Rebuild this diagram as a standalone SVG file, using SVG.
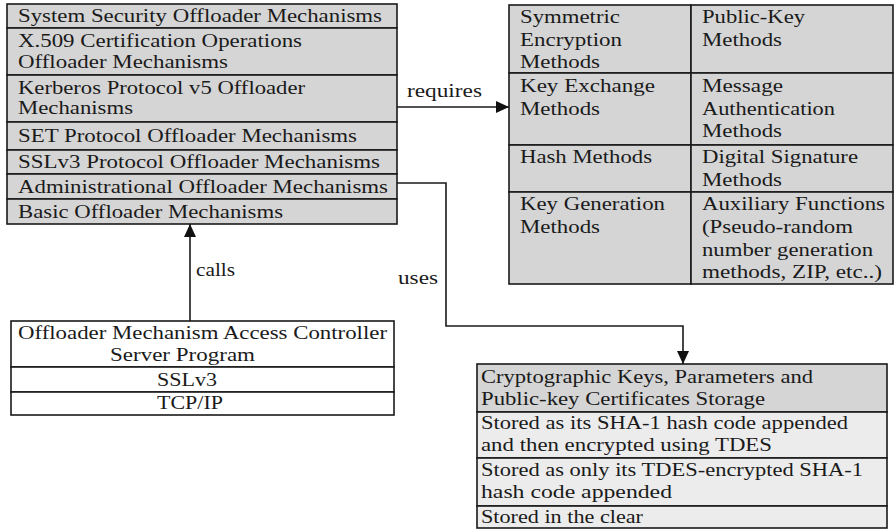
<svg xmlns="http://www.w3.org/2000/svg" width="895" height="529" viewBox="0 0 895 529">
<style>
text{font-family:'Liberation Serif','Times New Roman',Times,serif;font-size:19px;fill:#1a1a1a}
.g{fill:#d5d5d5;stroke:#1a1a1a;stroke-width:1.6}
.l{fill:#ececec;stroke:#1a1a1a;stroke-width:1.6}
.w{fill:#ffffff;stroke:#1a1a1a;stroke-width:1.6}
.c{fill:none;stroke:#1a1a1a;stroke-width:1.6}
</style>
<defs>
<marker id="ah" markerUnits="userSpaceOnUse" markerWidth="13" markerHeight="12" refX="13" refY="6" orient="auto">
<path d="M0,0 L13,6 L0,12 z" fill="#111"/>
</marker>
</defs>
<rect width="895" height="529" fill="#fff"/>

<g id="offloader-mechanisms">
<rect class="g" x="7" y="4" width="390" height="24"/>
<rect class="g" x="7" y="28" width="390" height="47"/>
<rect class="g" x="7" y="75" width="390" height="47"/>
<rect class="g" x="7" y="122" width="390" height="28"/>
<rect class="g" x="7" y="150" width="390" height="24"/>
<rect class="g" x="7" y="174" width="390" height="25"/>
<rect class="g" x="7" y="199" width="390" height="25"/>
<text x="18" y="22" textLength="364" lengthAdjust="spacingAndGlyphs">System Security Offloader Mechanisms</text>
<text x="18" y="47" textLength="284" lengthAdjust="spacingAndGlyphs">X.509 Certification Operations</text>
<text x="18" y="68" textLength="210" lengthAdjust="spacingAndGlyphs">Offloader Mechanisms</text>
<text x="18" y="94" textLength="287" lengthAdjust="spacingAndGlyphs">Kerberos Protocol v5 Offloader</text>
<text x="18" y="114" textLength="115" lengthAdjust="spacingAndGlyphs">Mechanisms</text>
<text x="18" y="142" textLength="339" lengthAdjust="spacingAndGlyphs">SET Protocol Offloader Mechanisms</text>
<text x="18" y="168" textLength="362" lengthAdjust="spacingAndGlyphs">SSLv3 Protocol Offloader Mechanisms</text>
<text x="18" y="193" textLength="370" lengthAdjust="spacingAndGlyphs">Administrational Offloader Mechanisms</text>
<text x="18" y="218" textLength="265" lengthAdjust="spacingAndGlyphs">Basic Offloader Mechanisms</text>
</g>

<g id="crypto-methods">
<rect class="g" x="509" y="5" width="182" height="68"/>
<rect class="g" x="691" y="5" width="202" height="68"/>
<rect class="g" x="509" y="73" width="182" height="72"/>
<rect class="g" x="691" y="73" width="202" height="72"/>
<rect class="g" x="509" y="145" width="182" height="47"/>
<rect class="g" x="691" y="145" width="202" height="47"/>
<rect class="g" x="509" y="192" width="182" height="92"/>
<rect class="g" x="691" y="192" width="202" height="92"/>
<text x="520" y="23" textLength="100" lengthAdjust="spacingAndGlyphs">Symmetric</text>
<text x="520" y="46" textLength="102" lengthAdjust="spacingAndGlyphs">Encryption</text>
<text x="520" y="68" textLength="80" lengthAdjust="spacingAndGlyphs">Methods</text>
<text x="702" y="23" textLength="103" lengthAdjust="spacingAndGlyphs">Public-Key</text>
<text x="702" y="46" textLength="80" lengthAdjust="spacingAndGlyphs">Methods</text>
<text x="520" y="92" textLength="135" lengthAdjust="spacingAndGlyphs">Key Exchange</text>
<text x="520" y="115" textLength="80" lengthAdjust="spacingAndGlyphs">Methods</text>
<text x="702" y="92" textLength="81" lengthAdjust="spacingAndGlyphs">Message</text>
<text x="702" y="115" textLength="133" lengthAdjust="spacingAndGlyphs">Authentication</text>
<text x="702" y="137" textLength="80" lengthAdjust="spacingAndGlyphs">Methods</text>
<text x="520" y="163" textLength="132" lengthAdjust="spacingAndGlyphs">Hash Methods</text>
<text x="702" y="163" textLength="156" lengthAdjust="spacingAndGlyphs">Digital Signature</text>
<text x="702" y="186" textLength="80" lengthAdjust="spacingAndGlyphs">Methods</text>
<text x="520" y="210" textLength="145" lengthAdjust="spacingAndGlyphs">Key Generation</text>
<text x="520" y="233" textLength="80" lengthAdjust="spacingAndGlyphs">Methods</text>
<text x="702" y="210" textLength="183" lengthAdjust="spacingAndGlyphs">Auxiliary Functions</text>
<text x="702" y="233" textLength="151" lengthAdjust="spacingAndGlyphs">(Pseudo-random</text>
<text x="702" y="256" textLength="171" lengthAdjust="spacingAndGlyphs">number generation</text>
<text x="702" y="278" textLength="180" lengthAdjust="spacingAndGlyphs">methods, ZIP, etc..)</text>
</g>

<g id="access-controller">
<rect class="w" x="11" y="321" width="383" height="46"/>
<rect class="w" x="11" y="367" width="383" height="25"/>
<rect class="w" x="11" y="392" width="383" height="23"/>
<text x="18" y="339" textLength="369" lengthAdjust="spacingAndGlyphs">Offloader Mechanism Access Controller</text>
<text x="110" y="361" textLength="145" lengthAdjust="spacingAndGlyphs">Server Program</text>
<text x="157" y="386" textLength="60" lengthAdjust="spacingAndGlyphs">SSLv3</text>
<text x="157" y="409" textLength="66" lengthAdjust="spacingAndGlyphs">TCP/IP</text>
</g>

<g id="key-storage">
<rect class="g" x="477" y="364" width="410" height="48"/>
<rect class="l" x="477" y="412" width="410" height="46"/>
<rect class="l" x="477" y="458" width="410" height="48"/>
<rect class="l" x="477" y="506" width="410" height="22"/>
<text x="481" y="383" textLength="332" lengthAdjust="spacingAndGlyphs">Cryptographic Keys, Parameters and</text>
<text x="481" y="405" textLength="284" lengthAdjust="spacingAndGlyphs">Public-key Certificates Storage</text>
<text x="481" y="429" textLength="367" lengthAdjust="spacingAndGlyphs">Stored as its SHA-1 hash code appended</text>
<text x="481" y="451" textLength="291" lengthAdjust="spacingAndGlyphs">and then encrypted using TDES</text>
<text x="481" y="476" textLength="382" lengthAdjust="spacingAndGlyphs">Stored as only its TDES-encrypted SHA-1</text>
<text x="481" y="498" textLength="191" lengthAdjust="spacingAndGlyphs">hash code appended</text>
<text x="481" y="523" textLength="162" lengthAdjust="spacingAndGlyphs">Stored in the clear</text>
</g>

<g id="connectors">
<line class="c" x1="397" y1="107" x2="509" y2="107" marker-end="url(#ah)"/>
<line class="c" x1="190" y1="321" x2="190" y2="224" marker-end="url(#ah)"/>
<polyline class="c" points="397,183 446,183 446,326 683,326 683,364" marker-end="url(#ah)"/>
<text x="407" y="97" textLength="75" lengthAdjust="spacingAndGlyphs">requires</text>
<text x="196" y="276" textLength="39" lengthAdjust="spacingAndGlyphs">calls</text>
<text x="398" y="284" textLength="40" lengthAdjust="spacingAndGlyphs">uses</text>
</g>
</svg>
